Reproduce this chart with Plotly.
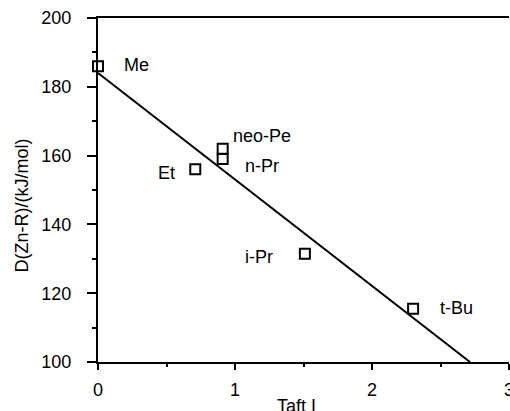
import plotly.graph_objects as go

# Data
taft_i = [0.0, 0.71, 0.91, 0.91, 1.51, 2.30]
d_zn_r = [186.0, 156.0, 162.0, 159.0, 131.5, 115.5]
names = ["Me", "Et", "neo-Pe", "n-Pr", "i-Pr", "t-Bu"]
label_x = [0.28, 0.50, 1.20, 1.20, 1.175, 2.615]
label_y = [186.4, 154.9, 165.6, 156.9, 130.5, 115.7]
fit_x = [0.0, 2.715]
fit_y = [184.0, 100.0]
x_ticks = [0, 1, 2, 3]
y_ticks = [100, 120, 140, 160, 180, 200]

FONT = "Liberation Sans, Arial, sans-serif"
FS = 18

fig = go.Figure()
fig.add_trace(go.Scatter(x=fit_x, y=fit_y, mode="lines",
                         line=dict(color="black", width=2), showlegend=False,
                         cliponaxis=False))
fig.add_trace(go.Scatter(x=taft_i, y=d_zn_r, mode="markers",
                         marker=dict(symbol="square-open", size=10, color="black",
                                     line=dict(color="black", width=2)),
                         showlegend=False, cliponaxis=False))

for n, lx, ly in zip(names, label_x, label_y):
    fig.add_annotation(x=lx, y=ly, text=n, showarrow=False,
                       font=dict(family=FONT, size=FS, color="black"),
                       xanchor="center", yanchor="middle")

# x tick labels drawn as text so the last one ("3") sits at the edge like the reference
for t in x_ticks:
    fig.add_annotation(x=t, y=0, xref="x", yref="paper", yshift=-28, text=str(t),
                       showarrow=False, font=dict(family=FONT, size=FS, color="black"),
                       xanchor="center", yanchor="middle")

fig.add_annotation(xref="paper", yref="paper", x=0.484, y=-0.128, text="Taft I",
                   showarrow=False, font=dict(family=FONT, size=FS, color="black"),
                   xanchor="center", yanchor="middle")
fig.add_annotation(xref="paper", yref="paper", x=-0.184, y=0.456, text="D(Zn-R)/(kJ/mol)",
                   showarrow=False, textangle=-90,
                   font=dict(family=FONT, size=FS, color="black"),
                   xanchor="center", yanchor="middle")

fig.update_layout(
    width=510, height=411,
    margin=dict(l=98, r=1, t=18, b=49),
    paper_bgcolor="white", plot_bgcolor="white",
    font=dict(family=FONT, size=FS, color="black"),
    xaxis=dict(range=[0, 3], showgrid=False, zeroline=False,
               showline=True, linecolor="black", linewidth=2, mirror=True,
               ticks="outside", ticklen=6, tickwidth=2, tickcolor="black",
               tickvals=x_ticks, showticklabels=False,
               minor=dict(ticks="outside", ticklen=3, tickwidth=2, tickcolor="black",
                          dtick=0.5, showgrid=False)),
    yaxis=dict(range=[100, 200], showgrid=False, zeroline=False,
               showline=True, linecolor="black", linewidth=2,
               ticks="outside", ticklen=9, tickwidth=2, tickcolor="black",
               tickvals=y_ticks, ticklabelstandoff=12,
               minor=dict(ticks="outside", ticklen=4, tickwidth=2, tickcolor="black",
                          dtick=10, showgrid=False),
               tickfont=dict(family=FONT, size=FS, color="black")),
)

fig.write_html("out.html")
